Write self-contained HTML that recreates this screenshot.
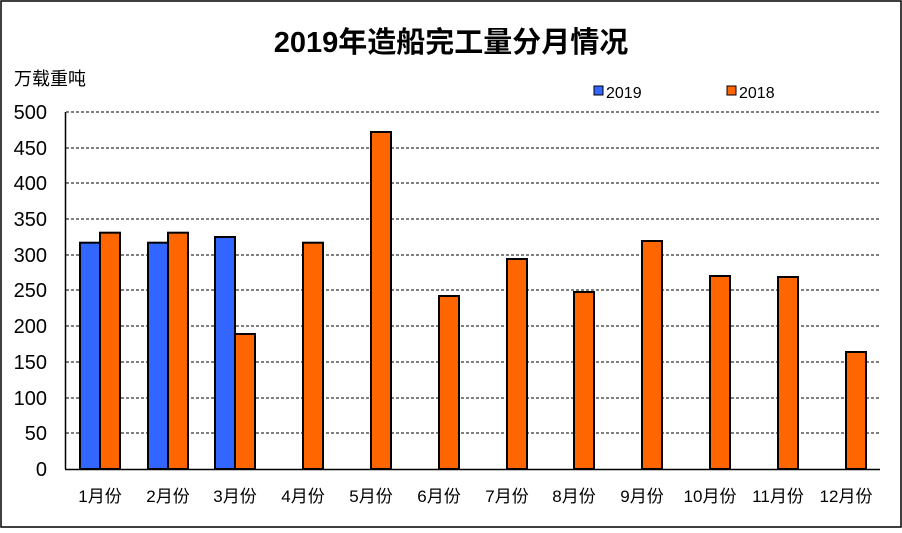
<!DOCTYPE html>
<html><head><meta charset="utf-8"><style>
body{margin:0;background:#fff}
text{font-family:"Liberation Sans","Noto Sans CJK SC",sans-serif;fill:#000}
</style></head><body>
<svg width="902" height="528" xmlns="http://www.w3.org/2000/svg">
<rect x="1" y="1" width="900" height="526" fill="#fff" stroke="#000" stroke-width="1.5"/>
<text x="451" y="52" font-size="29" font-weight="bold" text-anchor="middle" font-family="'Noto Sans CJK SC',sans-serif">2019年造船完工量分月情况</text>
<text x="14" y="85" font-size="18" font-family="'Noto Sans CJK SC',sans-serif">万载重吨</text>
<rect x="594" y="86" width="9" height="9" fill="#3366FF" stroke="#000"/>
<text x="606" y="98" font-size="16">2019</text>
<rect x="727" y="86" width="9" height="9" fill="#FF6600" stroke="#000"/>
<text x="739" y="98" font-size="16">2018</text>
<g stroke="#000" stroke-dasharray="3,2" stroke-width="1">
<line x1="66" x2="880" y1="112" y2="112"/><line x1="66" x2="880" y1="148" y2="148"/>
<line x1="66" x2="880" y1="183" y2="183"/><line x1="66" x2="880" y1="219" y2="219"/>
<line x1="66" x2="880" y1="255" y2="255"/><line x1="66" x2="880" y1="290" y2="290"/>
<line x1="66" x2="880" y1="326" y2="326"/><line x1="66" x2="880" y1="362" y2="362"/>
<line x1="66" x2="880" y1="398" y2="398"/><line x1="66" x2="880" y1="433" y2="433"/>
</g>
<g font-size="20" text-anchor="end">
<text x="47" y="119">500</text><text x="47" y="155">450</text><text x="47" y="190">400</text>
<text x="47" y="226">350</text><text x="47" y="262">300</text><text x="47" y="297">250</text>
<text x="47" y="333">200</text><text x="47" y="369">150</text><text x="47" y="405">100</text>
<text x="47" y="440">50</text><text x="47" y="476">0</text>
</g>
<g stroke="#000" stroke-width="2">
<rect x="80" y="242.7" width="20" height="226.3" fill="#3366FF"/>
<rect x="100" y="232.7" width="20" height="236.3" fill="#FF6600"/>
<rect x="148" y="242.7" width="20" height="226.3" fill="#3366FF"/>
<rect x="168" y="232.7" width="20" height="236.3" fill="#FF6600"/>
<rect x="215" y="237" width="20" height="232" fill="#3366FF"/>
<rect x="235" y="334" width="20" height="135" fill="#FF6600"/>
<rect x="303" y="242.7" width="20" height="226.3" fill="#FF6600"/>
<rect x="371" y="132" width="20" height="337" fill="#FF6600"/>
<rect x="439" y="296" width="20" height="173" fill="#FF6600"/>
<rect x="507" y="259" width="20" height="210" fill="#FF6600"/>
<rect x="574" y="292" width="20" height="177" fill="#FF6600"/>
<rect x="642" y="241" width="20" height="228" fill="#FF6600"/>
<rect x="710" y="276" width="20" height="193" fill="#FF6600"/>
<rect x="778" y="277" width="20" height="192" fill="#FF6600"/>
<rect x="846" y="352" width="20" height="117" fill="#FF6600"/>
</g>
<line x1="65.5" y1="112" x2="65.5" y2="469" stroke="#000" stroke-width="1.5"/>
<line x1="65" y1="469.5" x2="880" y2="469.5" stroke="#000" stroke-width="1.5"/>
<g font-size="17" text-anchor="middle" font-family="'Liberation Serif','Noto Serif CJK SC',serif">
<text x="100" y="502">1月份</text><text x="168" y="502">2月份</text><text x="235" y="502">3月份</text>
<text x="303" y="502">4月份</text><text x="371" y="502">5月份</text><text x="439" y="502">6月份</text>
<text x="507" y="502">7月份</text><text x="574" y="502">8月份</text><text x="642" y="502">9月份</text>
<text x="710" y="502">10月份</text><text x="778" y="502">11月份</text><text x="846" y="502">12月份</text>
</g>
</svg>
</body></html>
